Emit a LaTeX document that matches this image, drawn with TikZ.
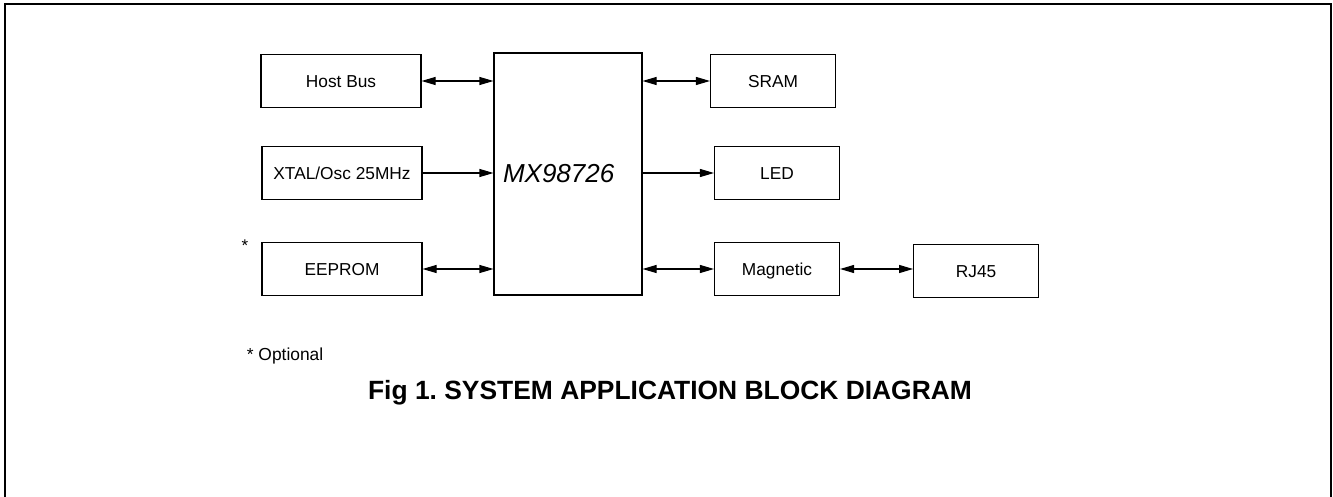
\documentclass[tikz,border=0pt]{standalone}
\usepackage{fontspec}
\setmainfont{Liberation Sans}
\usetikzlibrary{arrows.meta, positioning}

\begin{document}
\frenchspacing
\begin{tikzpicture}[x=1pt,y=-1pt,line width=1.1pt,>={Triangle[length=14pt,width=8pt]}]
		\tikzstyle{block}=[draw,minimum width=160pt,minimum height=53pt,inner sep=0pt,text height=12.4pt,text depth=0pt,font=\fontsize{17.3}{20}\selectfont]
		\tikzstyle{side}=[block,minimum width=125pt]
		
		% frame, open at the bottom
		\useasboundingbox (0,0) rectangle (1333,497);
		\draw[line width=2pt] (5,497) -- (5,4) -- (1331,4) -- (1331,497);
		
		\node[block] (host) at (341,81) {Host Bus};
		\node[block] (xtal) at (342,173) {XTAL/Osc 25MHz};
		\node[block] (eeprom) at (342,269) {EEPROM};
		\node[draw,minimum width=148pt,minimum height=242pt,inner sep=9pt,text width=130pt,align=left,
			font=\fontsize{26}{30}\selectfont\itshape] (mx) at (568,174) {MX98726};
		\node[side] (sram) at (773,81) {SRAM};
		\node[side] (led) at (777,173) {LED};
		\node[side] (magnetic) at (777,269) {Magnetic};
		\node[side] (rj45) [right=73pt of magnetic, yshift=-2pt] {RJ45};
		
		\node[font=\fontsize{17}{18}\selectfont] (star) at (245,246) {*};
		\node[anchor=west,font=\fontsize{17.4}{20}\selectfont] (note) at (243,356) {* Optional};
		\node[font=\bfseries\fontsize{26.4}{30}\selectfont] (title) at (670,393) {Fig 1. SYSTEM APPLICATION BLOCK DIAGRAM};
		
		\draw[<->] (host.east) -- (host.east -| mx.west);
		\draw[->] (xtal.east) -- (xtal.east -| mx.west);
		\draw[<->] (eeprom.east) -- (eeprom.east -| mx.west);
		\draw[<->] (sram.west -| mx.east) -- (sram.west);
		\draw[->] (led.west -| mx.east) -- (led.west);
		\draw[<->] (magnetic.west -| mx.east) -- (magnetic.west);
		\draw[<->] (magnetic.east) -- (magnetic.east -| rj45.west);
	
	\end{tikzpicture}
\end{document}
